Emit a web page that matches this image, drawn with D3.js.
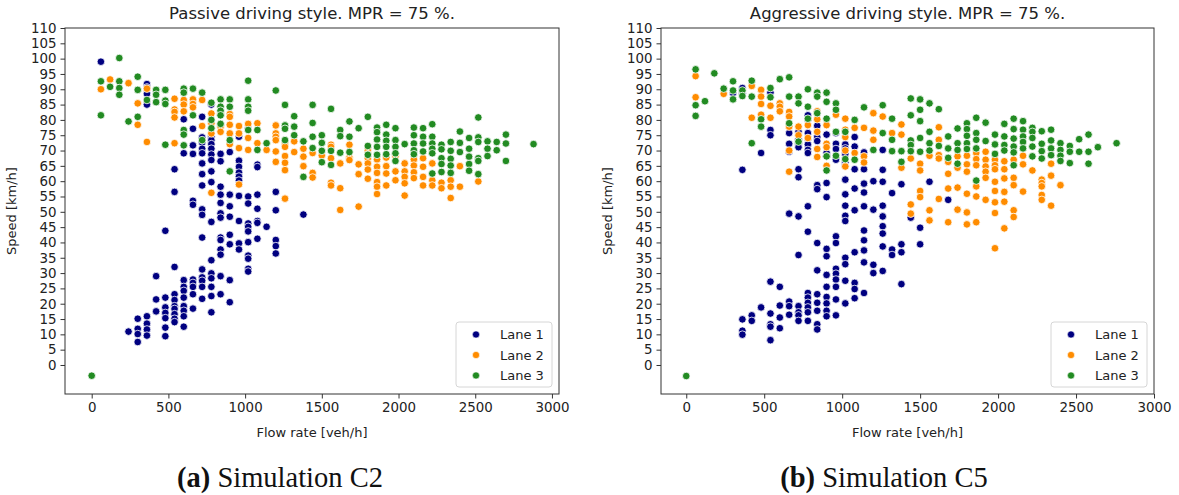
<!DOCTYPE html>
<html>
<head>
<meta charset="utf-8">
<script src="https://cdn.jsdelivr.net/npm/d3@7"></script>
<style>
  body { margin: 0; background: #fff; }
  svg text { font-family: 'DejaVu Sans', sans-serif; fill: #222; }
  .caption text { font-family: 'Liberation Serif', serif; fill: #111; }
</style>
</head>
<body>
<svg id="chart" width="1179" height="495"></svg>
<script>
//Data: each entry is [flow rate, [speeds observed at that flow]]
const laneNames = ['Lane 1', 'Lane 2', 'Lane 3'];
const laneColors = ['#000080', '#ff8c00', '#228b22'];
const xTicks = [0, 500, 1000, 1500, 2000, 2500, 3000];
const yTicks = d3.range(0, 111, 5);

// Simulation C2 (passive)
const c2Lane1 = [
  [60,[99]], [240,[10.9]], [300,[15.1,11.8,10.1,7.5]],
  [360,[91.7,90.6,88.5,85,15.9,13.5,11.6,9.6]], [420,[29,21.4,17.5]],
  [480,[43.8,22,18.8,17,15.3,12.2,9.4]],
  [540,[63.9,56.5,32,23.1,21.2,19.2,18.3,16.6,15.1,14]],
  [600,[80.2,69.1,27.7,25.5,24.2,22,19.2,17.7,15.9,12.5]],
  [660,[77.1,71.7,68.9,53.6,52.3,27.9,26.8,25.5,23.1,18.4]],
  [720,[81,74.3,72.6,70.6,69.1,65.8,62.3,58.6,50.8,49,41.6,31.2,28.6,27.5,25.5,21.6]],
  [780,[85,74.5,73.4,72.1,70.6,68.7,66.9,63.2,59.7,46.7,34.2,29.9,28.3,25.5,22.5,17.2]],
  [840,[68.9,66.5,58.2,55.6,52.9,49.5,48.1,41.6,40.8,37.7,36,29,23.1]],
  [900,[69.5,55.6,51.8,48.4,42.5,39.4,27.7,20.5]],
  [960,[74.5,66.7,64.7,62.8,61.5,60.2,55.2,47,39.7,37.7]],
  [1020,[77.1,55,52.7,46.2,45.1,43.6,40.1,35.7,34.7,31.4,30.5]],
  [1080,[65.4,64.6,55.6,51,47,46.4,41.2]], [1140,[45.1]],
  [1200,[56.5,50.5,40.8,38.8,36.4]], [1380,[49.1]]
];
const c2Lane2 = [
  [60,[90]], [120,[93.2]], [240,[92]], [300,[85.4,78.4]], [360,[90.2,72.8]],
  [540,[86.9,83.4,82.6,80.8,72.4]], [600,[86.5,85,82.8]], [660,[86.7,85.2,84.1]],
  [720,[86.5,78]], [780,[82.1,78.9,75.6,56.2]], [840,[82.1,77.8,76.1]],
  [900,[81.9,81,78.4,75.6,72.1]], [960,[78,75.6,70.8,58.9]], [1020,[78.7,74.1,70.2]],
  [1080,[78.9,72.4]], [1140,[70.2]], [1200,[78.2,75.6,74.5,73.4,69.7,66.3]],
  [1260,[72.1,71.2,68.2,66,63.6,54.3]], [1320,[73,69.5]], [1380,[70.6,68,64.9]],
  [1440,[69.2,62.7,61.2]], [1500,[68.4]], [1560,[71.9,71.2,67.5,59.5,58.6]],
  [1620,[65.8,57.7,50.6]], [1680,[71.9,67.7,66.9]], [1740,[65.5,62.3,51.7]],
  [1800,[71.2,69.9,68.8,67.5,65.8,63.8,60.8]], [1860,[67.1,64.7,62.7,59.7,58.2,55.8]],
  [1920,[67.7,64.9,62.5,58.6]], [1980,[68.2,63.2,60.3]], [2040,[65.8,63.2,61.4,59.3,55.3]],
  [2100,[67.1,65.1,62.9,61]], [2160,[67.5,64.7,61.4,58.6]], [2220,[65.8,60.3,58.6]],
  [2280,[59.5,57.7]], [2340,[60.3,58.2,54.5]], [2400,[64.9,58.2]], [2520,[59.9]]
];
const c2Lane3 = [
  [0,[-3.5]], [60,[92.6,81.5]], [120,[90.8]], [180,[100.2,92.6,90.4,88.2]], [240,[79.5]],
  [300,[94.1,89.8,81]], [360,[86.5]], [420,[89.8,88.2,85.8]], [480,[89.8,86.3,85.2,71.9]],
  [600,[90.2,88.9,76.7,75.2,71.7]], [660,[90.2,81.5]], [720,[88.9,73.4]], [780,[85.6,80,77.3]],
  [840,[86.7,84.3,83,81.5,78.7]], [900,[86.7,84.3,73.4,63.2]], [1020,[92.8,86.7,84.3,83,76.7]],
  [1080,[76.7,70.2]], [1140,[72.4]], [1200,[89.6]], [1260,[84.9,78.2,77.1,73.4]],
  [1320,[81.2,77.8,75]], [1380,[73,61.4]], [1440,[84.9,79,74.5,70.8]], [1500,[75,72.5,69.9,66.2]],
  [1560,[83.6,69.9,65.3]], [1620,[76.7,74.7,69.3]], [1680,[79.5,74.5,69.5]], [1740,[77.3]],
  [1800,[81,71.5,68.6]], [1860,[77.5,76,73.6,71.2,68.6]], [1920,[78.4,75.2,73.2,71.2,68.8]],
  [1980,[77.3,73.4,71.2,69.1,66.6]], [2040,[72.1]], [2100,[77.5,75,72.3,70.1,68.8]],
  [2160,[77.3,74.5,72.3,69.7]], [2220,[78.6,74.5,72.3,70.6,69.1,62.5]],
  [2280,[71.9,70.4,67.5,65.6,63]], [2340,[72.8,69.9,67.3,65.1,62.7]], [2400,[76.2,72.5,69.5]],
  [2460,[74.1,70.6,68,65.6,63.4]], [2520,[80.8,74.3,72.8,67.5,66.6,62.3]], [2580,[73,70.6,68.2]],
  [2640,[72.8,70.1]], [2700,[75.2,72.3,66.6]], [2880,[72.1]]
];

// Simulation C5 (aggressive)
const c5Lane1 = [
  [300,[88.8]], [360,[90.4,88.7,63.7,14.9,11.2,9.9]], [420,[16.2,14.4]], [480,[69.2,18.8]],
  [540,[88.9,76.7,75,27.2,16.8,13.3,12.5,8.1]], [600,[25.5,19.4,15.5,12]],
  [660,[75.7,72.2,69.6,49.4,20.7,19.2,16.4]],
  [720,[76.1,73.7,72.2,71.1,63.9,61.3,48.5,35.9,19.2,17.2,16.2,14.4]],
  [780,[81.5,80.2,75.7,73.9,72,70.2,69.2,51.8,43.5,23.5,22,20.3,18.8,17.2,14.4]],
  [840,[78.1,74.4,73.1,58.7,57.4,39.8,30.9,23.1,20.3,17.7,13.3,11.6]],
  [900,[75.2,69.2,68.1,59.4,54.8,37.9,35.5,29.4,25.5,22.2,20.1,17.7,15.9]],
  [960,[75.7,72.2,70.5,67,42,39.8,31.4,29.8,27.9,25.5,21.4,16.2]],
  [1020,[72,70.7,68.9,66.1,65,60.5,55.7,52,48.7,47,35,32.9,27.5,20.1]],
  [1080,[74.4,71.3,63.9,57.6,50.5,36.8,26.8,24.8,21.8]],
  [1140,[69.4,63.9,59.2,56.3,51.8,43.9,40.7,37.4,33.5,23.5]],
  [1200,[60,50.7,32.7,30]], [1260,[70.2,63.7,59.8,52,48.5,45.3,42.9,38.7,30.7]],
  [1320,[56.1,37.7,35.9]], [1380,[59,39.4,36.8,26.4]], [1440,[48.1]], [1500,[44.8,39.4]],
  [1560,[59.8]], [1680,[53.9]]
];
const c5Lane2 = [
  [60,[94.3,87.4]], [240,[88.5]], [420,[91.1,80.7]], [480,[89.8,87.6,85.2,81.7]],
  [540,[84.6,80.7]], [600,[85.4,84.3,82.8]], [660,[82.6,81.1,77.8,70,63.1]], [720,[77.8,75]],
  [780,[78.3,74.1]], [840,[82.8,80.2,76.1,70.5,67.9]], [900,[78.3,72.2,71.1,65]], [960,[81.7]],
  [1020,[80.4,76.8,74.4,70,64.8]], [1080,[77.4,69.2]], [1140,[77.4,68.1,66.1]],
  [1200,[82.2,76.5,73.5]], [1260,[81.1]], [1320,[75.7]], [1380,[78.5,75.2,64.4]],
  [1440,[67.4,52.4,49.4]], [1500,[65.7,63.5,56.8,54.8]], [1560,[68.3,50.5,47.2]],
  [1620,[77.6,73.5,68.5,67.4,54.2]], [1680,[66.3,62.4,57.6,46.6]], [1740,[68.1,64.4,57.9,50.7]],
  [1800,[68.3,65.5,63.1,55.9,49.8,45.9]], [1860,[69.2,67.2,65.2,58.3,55,46.6]],
  [1920,[69.6,67,64.8,63.1,61.1,53.9]], [1980,[67,65.2,63.9,59.8,56.8,53.1,49.6,38.1]],
  [2040,[66.5,63.9,60.9,56.5,53.3,44.6]], [2100,[67,61.1,58.7,50.5,48.3]], [2160,[68.3,65.5,56.6]],
  [2220,[63.5]], [2280,[60.5,59.4,58.3,55.5,53.9]], [2340,[65.7,61.8,52]], [2400,[58.7]]
];
const c5Lane3 = [
  [0,[-3.6]], [60,[96.5,84.8,81.3]], [120,[86.1]], [180,[95.2]], [240,[90.2]], [300,[92.6,89.6,86.7]],
  [360,[89.6,87.8]], [420,[92.8,87.6,72.4]], [480,[80.2,77.8]], [540,[90.4,87.4]], [600,[93.3]],
  [660,[93.9,87.6,78.9]], [720,[87.6,85.4,72.9]], [780,[90,84.3,80.4]], [840,[88.9,87.6,82.2]],
  [900,[88.9,85.9,80.4,68.1,63.5]], [960,[85.4,83.3,76.1,68.3]], [1020,[76.1,67.2]], [1080,[80,67]],
  [1140,[84.1]], [1200,[70.2]], [1260,[84.8,75.7]], [1320,[80.4,73.5,69.8]], [1380,[69.8,66.3]],
  [1440,[87,81.5,73.3,71.8,69.8]], [1500,[86.7,83.3,79.6,74.1,69.6]], [1560,[85.4,76.1,72.4,70]],
  [1620,[83.5,71.5]], [1680,[74.6,70.7,67.6]], [1740,[77.2,72.4,70.2,65.7]],
  [1800,[78.9,77,74.8,72.4,70.5]], [1860,[80.7,75.7,73.5,70.7,60.2]], [1920,[79.1,73.1]],
  [1980,[75.2,72,68.9]], [2040,[78.7,74.6,71.8,70]], [2100,[80.4,77,73.9,71.3,69.4,65.2]],
  [2160,[79.6,76.8,74.6,72.8,70.7]], [2220,[77.4,76.1,74.1,71.3,68.1]], [2280,[76.3,72.2,69.8,67.4]],
  [2340,[76.8,73.3,70.7,68.5]], [2400,[72.4,70.2,68.3,66.6]], [2460,[71.5,69.6,65.9]],
  [2520,[73.7,69.6]], [2580,[75.2,69.6,65.7]], [2640,[71.1]], [2760,[72.4]]
];

//flatten [flow,[speeds]] -> points
const toPoints = (cols, lane) => cols.flatMap(c => c[1].map(s => ({flow: c[0], speed: s, lane})));

const svg = d3.select('#chart');

function drawPanel(p){
  const g = svg.append('g');
  const x = d3.scaleLinear().domain(p.xDomain).range([p.left, p.right]);
  const y = d3.scaleLinear().domain([-9.47, 110]).range([p.bottom, p.top]);

  //points (lane 1 first, lane 3 on top)
  const pts = p.lanes.flatMap((cols, i) => toPoints(cols, i));
  g.append('g').selectAll('circle').data(pts).join('circle')
    .attr('cx', d => x(d.flow)).attr('cy', d => y(d.speed))
    .attr('r', 3.8)
    .style('fill', d => laneColors[d.lane])
    .style('stroke', '#fff').style('stroke-width', 0.8);

  //axes
  const xAxis = d3.axisBottom(x).tickValues(xTicks).tickFormat(d3.format('d'))
    .tickSizeInner(4.5).tickSizeOuter(0).tickPadding(4);
  const yAxis = d3.axisLeft(y).tickValues(yTicks).tickFormat(d3.format('d'))
    .tickSizeInner(4.5).tickSizeOuter(0).tickPadding(4);
  const xg = g.append('g').attr('transform', `translate(0,${p.bottom})`).call(xAxis);
  const yg = g.append('g').attr('transform', `translate(${p.left},0)`).call(yAxis);
  [xg, yg].forEach(a => {
    a.selectAll('text').style('font-size', '13.4px').style('fill', '#222');
    a.selectAll('line').style('stroke', '#333');
    a.select('.domain').remove();
  });

  //frame
  g.append('rect').attr('x', p.left).attr('y', p.top)
    .attr('width', p.right - p.left).attr('height', p.bottom - p.top)
    .style('fill', 'none').style('stroke', '#333').style('stroke-width', 1);

  //title + labels
  const cx = (p.left + p.right) / 2;
  g.append('text').attr('x', cx).attr('y', 19).attr('text-anchor', 'middle')
    .style('font-size', '16.5px').text(p.title);
  g.append('text').attr('x', cx).attr('y', 437).attr('text-anchor', 'middle')
    .style('font-size', '13px').text('Flow rate [veh/h]');
  g.append('text').attr('transform', `translate(${p.left - 49},${(p.top + p.bottom) / 2}) rotate(-90)`)
    .attr('text-anchor', 'middle').style('font-size', '13px').text('Speed [km/h]');

  //legend
  const lg = g.append('g').attr('transform', `translate(${p.right - 103},${p.bottom - 72})`);
  lg.append('rect').attr('width', 96).attr('height', 65).attr('rx', 3)
    .style('fill', '#fff').style('fill-opacity', 0.8).style('stroke', '#d6d6d6');
  laneNames.forEach((n, i) => {
    lg.append('circle').attr('cx', 20).attr('cy', 12.5 + i * 20.5).attr('r', 3.6)
      .style('fill', laneColors[i]).style('stroke', '#fff').style('stroke-width', 0.6);
    lg.append('text').attr('x', 44).attr('y', 17 + i * 20.5).style('font-size', '13px').text(n);
  });

  //caption
  const cap = svg.append('g').attr('class', 'caption');
  const t = cap.append('text').attr('x', p.capX).attr('y', 487).attr('text-anchor', 'middle')
    .style('font-size', '28.5px');
  t.append('tspan').style('font-weight', 'bold').text(p.capTag);
  t.append('tspan').text(' ' + p.capText);
}

drawPanel({
  left: 65, right: 559, top: 28, bottom: 394, xDomain: [-174, 3046],
  lanes: [c2Lane1, c2Lane2, c2Lane3],
  title: 'Passive driving style. MPR = 75 %.',
  capX: 280, capTag: '(a)', capText: 'Simulation C2'
});
drawPanel({
  left: 661, right: 1154, top: 28, bottom: 394, xDomain: [-162, 3000],
  lanes: [c5Lane1, c5Lane2, c5Lane3],
  title: 'Aggressive driving style. MPR = 75 %.',
  capX: 884, capTag: '(b)', capText: 'Simulation C5'
});
</script>
</body>
</html>
